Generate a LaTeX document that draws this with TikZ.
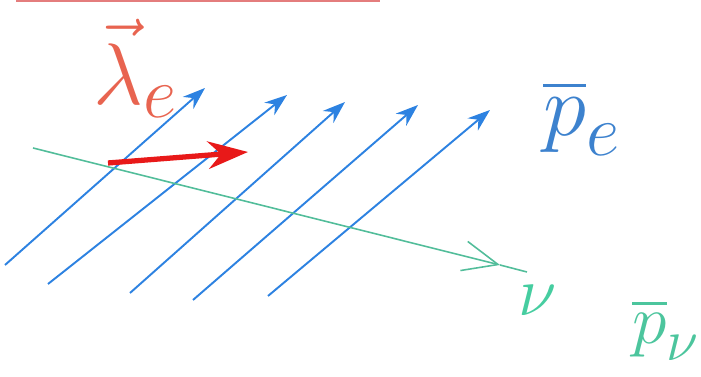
\documentclass[tikz,border=0pt]{standalone}
\usepackage{amsmath,amssymb}
\usetikzlibrary{arrows.meta}
\definecolor{penblue}{RGB}{45,130,225}
\definecolor{pengreen}{RGB}{70,205,160}
\definecolor{penred}{RGB}{232,25,25}
\definecolor{penorange}{RGB}{232,100,80}
\definecolor{penpink}{RGB}{228,125,125}

\begin{document}
\begin{tikzpicture}[x=0.02cm, y=-0.02cm, every node/.style={font=\Huge, inner sep=0pt},
	lbl/.style={scale=#1, transform shape}, lbl/.default=2,
	flux/.style={penblue, line width=1.1pt, -{Stealth[length=4.5mm, width=3.2mm]}}]
	\useasboundingbox (0,0) rectangle (701,377);
	\draw[penpink, line width=1.6pt] (16,1) -- (380,1);
	% parallel electron momenta
	\foreach \n/\xa/\ya/\xb/\yb in {1/5/265/205/88, 2/48/284/287/95, 3/130/293/345/102, 4/193/300/418/105, 5/268/296/490/110} {
		\coordinate (s\n) at (\xa,\ya);
		\coordinate (t\n) at (\xb,\yb);
		\draw[flux] (s\n) -- (t\n);}
	% neutrino
	\coordinate (g1) at (33,148);
	\coordinate (gt) at (500,265);
	\coordinate (g2) at (527,272);
	\draw[pengreen!80!gray, line width=0.9pt, -{Straight Barb[length=7mm, width=6mm]}] (g1) -- (gt);
	\draw[pengreen!80!gray, line width=0.9pt] (gt) -- (g2);
	% spin
	\coordinate (r1) at (108,163);
	\coordinate (r2) at (248,152);
	\draw[penred, line width=3pt, -{Stealth[length=8mm, width=5.5mm]}] (r1) -- (r2);
	\node[lbl=2, text=penorange] (lam) at (136,68) {$\vec{\lambda}_{e}$};
	\node[lbl=2, text=penblue!80!gray] (pe) at (582,118) {$\overline{p}_{e}$};
	\node[lbl=1.6, text=pengreen] (nu) at (538,300) {$\nu$};
	\node[lbl=1.6, text=pengreen!90!gray] (pnu) at (666,330) {$\overline{p}_{\nu}$};
\end{tikzpicture}
\end{document}
